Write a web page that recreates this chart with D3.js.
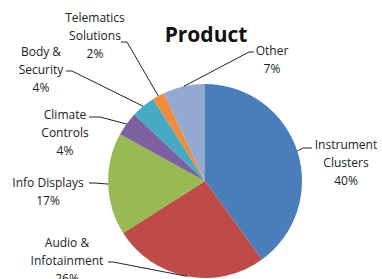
<!DOCTYPE html>
<html>
<head>
<meta charset="utf-8">
<script src="https://cdn.jsdelivr.net/npm/d3@7"></script>
<style>
	body { margin: 0; background: #fff; }
	svg { display: block; font-family: "Open Sans", Lato, sans-serif; }
</style>
</head>
<body>
<svg id="chart" width="382" height="279"></svg>
<script>
// data, clockwise from 12 o'clock
var products = ["Instrument Clusters", "Audio & Infotainment", "Info Displays",
	"Climate Controls", "Body & Security", "Telematics Solutions", "Other"];
var shares = [40, 26, 17, 4, 4, 2, 7];
var labelLines = [
	["Instrument", "Clusters"],
	["Audio &", "Infotainment"],
	["Info Displays"],
	["Climate", "Controls"],
	["Body &", "Security"],
	["Telematics", "Solutions"],
	["Other"]
];
var colors = ["#4a7ebb", "#be4b48", "#98b954", "#7d60a0", "#46aac5", "#f08c3e", "#93a9cf"];

// label placement: text centre x, first line y, leader start + knee
var labelPos = [
	{x: 346, y: 145, lead: [[312, 148], [303, 148]]},
	{x: 67,  y: 243, lead: [[108, 262], [113, 262]]},
	{x: 48,  y: 183, lead: [[89, 183], [95, 183]]},
	{x: 65,  y: 115, lead: [[89, 117], [100, 117]]},
	{x: 41,  y: 52,  lead: [[66, 71], [72, 71]]},
	{x: 95,  y: 18,  lead: [[121, 42], [127, 42]]},
	{x: 272, y: 51,  lead: [[254, 52], [249, 52]]}
];

var cx = 205, cy = 181, r = 97, lineH = 18;

var svg = d3.select("#chart");

svg.append("text")
	.attr("x", 206)
	.attr("y", 42)
	.attr("text-anchor", "middle")
	.attr("font-size", 21)
	.attr("font-weight", "bold")
	.attr("fill", "#111")
	.text("Product");

var pie = d3.pie().sort(null).value(function (d) { return d; });
var arcs = pie(shares);
var arc = d3.arc().innerRadius(0).outerRadius(r);

var g = svg.append("g").attr("transform", "translate(" + cx + "," + cy + ")");

g.selectAll("path")
	.data(arcs)
	.enter().append("path")
	.attr("d", arc)
	.attr("fill", function (d, i) { return colors[i]; });

// leader lines to the middle of each slice's outer edge
arcs.forEach(function (d, i) {
	var a = (d.startAngle + d.endAngle) / 2;
	var end = [cx + r * Math.sin(a), cy - r * Math.cos(a)];
	var pts = labelPos[i].lead.concat([end]);
	svg.append("path")
		.attr("d", d3.line()(pts))
		.attr("fill", "none")
		.attr("stroke", "#222")
		.attr("stroke-width", 1);
});

// labels
arcs.forEach(function (d, i) {
	var p = labelPos[i];
	var lines = labelLines[i].concat([shares[i] + "%"]);
	var t = svg.append("text")
		.attr("text-anchor", "middle")
		.attr("font-size", 12)
		.attr("fill", "#222");
	lines.forEach(function (s, k) {
		t.append("tspan")
			.attr("x", p.x)
			.attr("y", p.y + k * lineH + 4)
			.text(s);
	});
});
</script>
</body>
</html>
